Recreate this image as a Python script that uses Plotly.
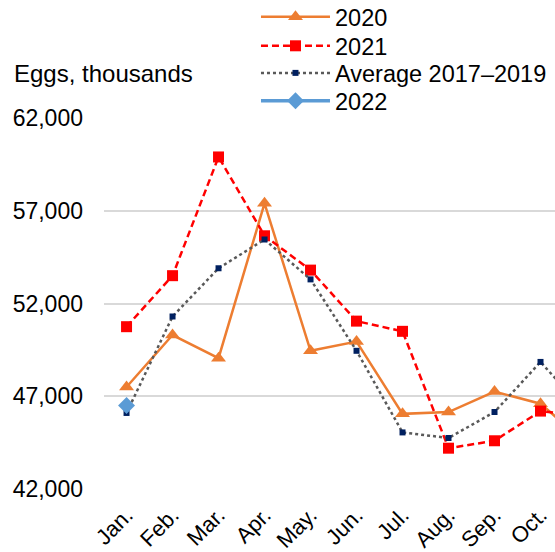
import plotly.graph_objects as go

# Monthly egg production, thousands
months = ["Jan.", "Feb.", "Mar.", "Apr.", "May.", "Jun.", "Jul.", "Aug.", "Sep.", "Oct.", "Nov."]
eggs_2020 = [47500, 50300, 49050, 57400, 49450, 49950, 46050, 46150, 47250, 46600, 44450]
eggs_2021 = [50750, 53500, 59900, 55650, 53800, 51050, 50500, 44200, 44600, 46200, 45900]
eggs_avg_2017_2019 = [46100, 51300, 53900, 55450, 53300, 49450, 45050, 44750, 46150, 48850, 46100]
eggs_2022 = [46500]

y_ticks = [42000, 47000, 52000, 57000, 62000]

FONT = "Liberation Sans, Arial, sans-serif"

fig = go.Figure()

fig.add_trace(go.Scatter(
    x=months, y=eggs_2020, name="2020", mode="lines+markers", legend="legend",
    line=dict(color="#ED7D31", width=2.5),
    marker=dict(symbol="triangle-up", size=13, color="#ED7D31"),
))
fig.add_trace(go.Scatter(
    x=months, y=eggs_2021, name="2021", mode="lines+markers", legend="legend2",
    line=dict(color="#FF0000", width=2.5, dash="7px,4px"),
    marker=dict(symbol="square", size=11, color="#FF0000"),
))
fig.add_trace(go.Scatter(
    x=months, y=eggs_avg_2017_2019, name="Average 2017\u20132019", mode="lines+markers",
    legend="legend3",
    line=dict(color="#595959", width=2.5, dash="dot"),
    marker=dict(symbol="square", size=6, color="#002060"),
))
fig.add_trace(go.Scatter(
    x=months[:len(eggs_2022)], y=eggs_2022, name="2022", mode="lines+markers",
    legend="legend4",
    line=dict(color="#5B9BD5", width=3.5),
    marker=dict(symbol="diamond", size=13, color="#5B9BD5"),
))

# one single-entry legend per series so the rows can sit close together
legend_rows = {"legend": 1.272, "legend2": 1.194, "legend3": 1.121, "legend4": 1.046}
legend_style = dict(
    x=0.337, xanchor="left", yanchor="middle",
    bgcolor="rgba(0,0,0,0)", itemwidth=69,
    font=dict(family=FONT, size=23.5, color="#000000"),
)

fig.update_layout(
    width=555, height=552,
    margin=dict(l=104, r=0, t=118, b=63, pad=0, autoexpand=False),
    paper_bgcolor="white", plot_bgcolor="white",
    font=dict(family=FONT, size=23, color="#000000"),
    showlegend=True,
    annotations=[dict(
        text="Eggs, thousands", xref="paper", yref="paper",
        x=-0.205, y=1.12, xanchor="left", yanchor="middle",
        showarrow=False, font=dict(family=FONT, size=24, color="#000000"),
    )],
)
for name, ypos in legend_rows.items():
    fig.update_layout({name: dict(legend_style, y=ypos)})

fig.update_xaxes(
    type="category", categoryorder="array", categoryarray=months,
    range=[-0.49, 9.315], automargin=False,
    showgrid=False, zeroline=False, showline=False,
    ticks="", tickangle=-45, ticklabelstandoff=8,
    tickfont=dict(family=FONT, size=22, color="#000000"),
)
fig.update_yaxes(
    range=[42000, 62000], tickvals=y_ticks, tickformat=",", automargin=False,
    showgrid=True, gridcolor="#D9D9D9", gridwidth=1.5,
    zeroline=False, showline=False, ticks="", ticklabelstandoff=20,
    tickfont=dict(family=FONT, size=23, color="#000000"),
)

fig.write_html("out.html")
